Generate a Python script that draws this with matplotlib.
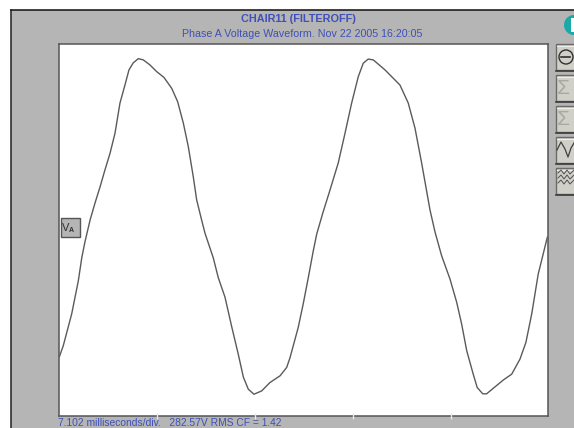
import matplotlib
matplotlib.use("Agg")
import matplotlib.pyplot as plt
from matplotlib.patches import Rectangle, Circle

# Waveform: time in ms, voltage in volts
time_ms = [0.02,0.31,0.92,1.40,1.65,1.88,2.25,2.61,2.97,3.33,3.70,4.06,4.42,4.78,5.07,5.38,5.75,6.11,6.59,7.08,7.61,8.17,
           8.60,9.01,9.37,9.73,9.98,10.34,10.58,11.18,11.54,12.03,12.52,12.99,13.36,13.72,14.13,14.69,15.29,16.02,16.50,16.74,
           17.34,17.70,18.07,18.43,18.68,19.11,19.64,20.24,20.73,21.21,21.69,22.05,22.41,22.78,23.63,24.71,25.31,25.80,
           26.28,26.89,27.25,27.73,28.34,28.82,29.18,29.55,30.02,30.31,30.71,30.99,32.20,32.81,33.41,33.84,34.26,34.73,35.39]
volts = [-313,-286,-210,-131,-76,-38,14,55,93,134,174,222,294,337,373,390,400,397,385,369,355,329,
         297,246,190,118,62,14,-17,-76,-123,-170,-241,-306,-361,-390,-402,-394,-374,-358,-338,-315,
         -242,-186,-123,-59,-19,30,86,151,222,294,357,389,399,397,373,337,294,234,
         151,38,-14,-71,-127,-182,-234,-298,-354,-386,-401,-401,-368,-354,-318,-278,-210,-115,-27]
tick_ms = [7.102, 14.204, 21.306, 28.408]

title_main = "CHAIR11 (FILTEROFF)"
title_sub = "Phase A Voltage Waveform. Nov 22 2005 16:20:05"
footer = "7.102 milliseconds/div.   282.57V RMS CF = 1.42"

W, H = 574, 428
GRAY = "#b4b5b4"
BLUE = "#3f50b8"
FONT = "Liberation Sans"

fig = plt.figure(figsize=(W/100, H/100), dpi=100, facecolor="white")

# Window chrome, laid out in pixel space
bg = fig.add_axes([0, 0, 1, 1])
bg.set_xlim(0, W); bg.set_ylim(H, 0); bg.axis("off")
bg.add_patch(Rectangle((11, 10), W, H, fc=GRAY, ec="none"))
bg.plot([11, 11], [10, H], color="#303030", lw=1.2)
bg.plot([11, W], [10, 10], color="#202020", lw=1.2)
bg.add_patch(Circle((574, 25), 10, fc="#19a9a9", ec="none"))
bg.add_patch(Rectangle((571, 18), 4, 14, fc="white", ec="none"))

bg.text(298.5, 19, title_main, color=BLUE, fontsize=7.8, fontweight="bold", family=FONT, ha="center", va="center")
bg.text(302.5, 33.5, title_sub, color=BLUE, fontsize=7.65, family=FONT, ha="center", va="center")
bg.text(58, 422.5, footer, color=BLUE, fontsize=7.35, family=FONT, ha="left", va="center")

# Toolbar buttons
for top in [44, 75, 106, 137, 168]:
    bg.add_patch(Rectangle((555.5, top), 30, 26, fc="#d0cfc8", ec="#6a6a68", lw=1))
    bg.plot([555.5, 575], [top+26.5, top+26.5], color="#3c3c3c", lw=1.2)
    bg.plot([556.5, 575], [top+1.5, top+1.5], color="#eeeee8", lw=0.8)
bg.plot([561, 570], [57, 57], color="#303030", lw=1.2)
bg.add_patch(Circle((566, 57), 7, fc="none", ec="#303030", lw=1))
for top in (75, 106):
    bg.text(557, top+13, "Σ", color="#a8a8a0", fontsize=15, family=FONT, va="center", ha="left")
bg.plot([557, 561, 565, 568, 571, 574], [150, 142, 149, 157, 148, 143], color="#404040", lw=0.9)
for y0 in (172, 177, 182):
    bg.plot([558, 561, 564, 567, 570, 574], [y0+1, y0-2, y0+2, y0-2, y0+2, y0-2], color="#505050", lw=0.7)

# Plot
ax = fig.add_axes([59/W, 1-416/H, 489/W, 372/H], facecolor="white", zorder=2)
ax.plot(time_ms, volts, color="#5a5a5a", lw=1.0)
ax.set_xlim(0, 35.44)
ax.set_ylim(-454, 435)
ax.set_xticks(tick_ms)
ax.set_yticks([])
for s in ax.spines.values():
    s.set_color("#555555"); s.set_linewidth(1.1); s.set_zorder(1.5)
ax.set_axisbelow(False)
ax.tick_params(axis="x", direction="inout", length=4, width=1, color="#e8e8e8", labelbottom=False)

# Channel marker over the plot
fg = fig.add_axes([0, 0, 1, 1], zorder=3)
fg.set_xlim(0, W); fg.set_ylim(H, 0); fg.axis("off")
fg.add_patch(Rectangle((60.5, 218), 19, 19, fc=GRAY, ec="#555555", lw=1))
fg.text(62, 227.5, "V", color="#303030", fontsize=8, family=FONT, va="center", ha="left")
fg.text(69, 230, "A", color="#303030", fontsize=5, family=FONT, fontweight="bold", va="center", ha="left")

fig.savefig("out.png", dpi=100, facecolor="white")
